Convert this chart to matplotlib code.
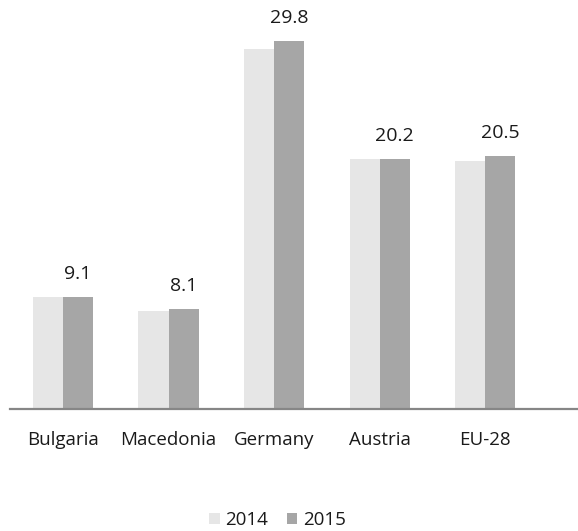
import numpy as np
import matplotlib.pyplot as plt

plt.rcParams['font.family'] = ['Open Sans', 'DejaVu Sans']

countries = ['Bulgaria', 'Macedonia', 'Germany', 'Austria', 'EU-28']
vals_2014 = [9.1, 7.9, 29.1, 20.2, 20.1]
vals_2015 = [9.1, 8.1, 29.8, 20.2, 20.5]

x = np.arange(len(countries))
w = 0.285

fig = plt.figure(figsize=(5.78, 5.31), dpi=100)
ax = fig.add_axes([10/578, 122/531, 568/578, 409/531])

ax.bar(x - w/2, vals_2014, w, color='#e6e6e6', label='2014')
b15 = ax.bar(x + w/2, vals_2015, w, color='#a6a6a6', label='2015')

# labels only on 2015 bars
for rect, v in zip(b15, vals_2015):
    ax.annotate('%.1f' % v, (rect.get_x() + rect.get_width()/2, v),
                xytext=(0, 16.5), textcoords='offset points',
                ha='center', va='center', fontsize=14, color='#1a1a1a')

ax.set_xlim(-0.502, 4.88)
ax.set_ylim(0, 33.1)
ax.set_xticks(x)
ax.set_xticklabels(countries, fontsize=13.5, color='#1a1a1a')
ax.tick_params(axis='x', length=0, pad=16)
ax.set_yticks([])
for s in ['top', 'right', 'left']:
    ax.spines[s].set_visible(False)
ax.spines['bottom'].set_color('#868686')
ax.spines['bottom'].set_linewidth(1.6)

fig.legend(loc='center', bbox_to_anchor=(0.48, 1 - 520/531), ncol=2, frameon=False,
           fontsize=13.5, handlelength=0.55, handleheight=0.55, handletextpad=0.3,
           columnspacing=1.0, labelcolor='#1a1a1a')

plt.savefig('out.png')
